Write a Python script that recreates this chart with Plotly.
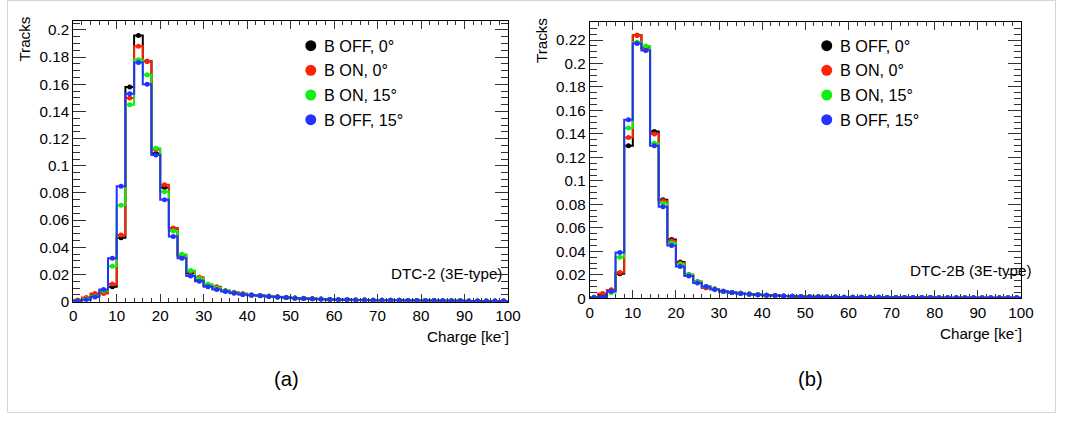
import plotly.graph_objects as go

W, H = 1069, 421

# ---------------- data ----------------
bin_edges = list(range(0, 102, 2))
bin_centers = [e + 1 for e in range(0, 100, 2)]

series_names = ["B OFF, 0°", "B ON, 0°", "B ON, 15°", "B OFF, 15°"]
series_colors = ["#000000", "#ff2200", "#11ee11", "#2233ff"]

tail_a = [0.0015, 0.0014, 0.0013, 0.0012, 0.0011, 0.0011, 0.0010, 0.0010, 0.0009, 0.0009,
          0.0008, 0.0008, 0.0007, 0.0007, 0.0007, 0.0006, 0.0006, 0.0006, 0.0005, 0.0005]

# Panel (a): DTC-2
a_boff0 = [0.001, 0.002, 0.005, 0.007, 0.011, 0.047, 0.158, 0.196, 0.177, 0.109,
           0.084, 0.054, 0.034, 0.021, 0.016, 0.012, 0.010, 0.008, 0.0065, 0.0055,
           0.005, 0.0045, 0.004, 0.0035, 0.003, 0.0027, 0.0024, 0.0021, 0.0019, 0.0017] + tail_a
a_bon0 = [0.001, 0.003, 0.006, 0.006, 0.013, 0.049, 0.150, 0.188, 0.177, 0.112,
          0.086, 0.054, 0.034, 0.022, 0.018, 0.012, 0.011, 0.008, 0.007, 0.006,
          0.005, 0.0046, 0.0041, 0.0036, 0.0031, 0.0028, 0.0025, 0.0022, 0.0019, 0.0017] + tail_a
a_bon15 = [0.0005, 0.002, 0.004, 0.008, 0.026, 0.071, 0.145, 0.178, 0.167, 0.113,
           0.081, 0.052, 0.035, 0.023, 0.017, 0.013, 0.010, 0.008, 0.0066, 0.0056,
           0.005, 0.0046, 0.004, 0.0035, 0.0031, 0.0027, 0.0024, 0.0021, 0.0019, 0.0017] + tail_a
a_boff15 = [0.0005, 0.0015, 0.0035, 0.009, 0.032, 0.085, 0.153, 0.176, 0.160, 0.108,
            0.075, 0.048, 0.032, 0.019, 0.015, 0.011, 0.009, 0.0075, 0.0062, 0.0053,
            0.0048, 0.0043, 0.0038, 0.0034, 0.003, 0.0026, 0.0023, 0.0021, 0.0018, 0.0016] + tail_a

tail_b = [0.0009, 0.0009, 0.0008, 0.0008, 0.0007, 0.0007, 0.0007, 0.0006, 0.0006, 0.0006,
          0.0005, 0.0005, 0.0005, 0.0005, 0.0004, 0.0004, 0.0004, 0.0004, 0.0004, 0.0004]

# Panel (b): DTC-2B
b_boff0 = [0.001, 0.003, 0.007, 0.021, 0.130, 0.224, 0.213, 0.142, 0.084, 0.050,
           0.031, 0.020, 0.014, 0.009, 0.008, 0.006, 0.005, 0.0042, 0.0036, 0.003,
           0.0026, 0.0023, 0.002, 0.0018, 0.0016, 0.0014, 0.0013, 0.0012, 0.0011, 0.0010] + tail_b
b_bon0 = [0.001, 0.004, 0.007, 0.022, 0.137, 0.224, 0.213, 0.140, 0.083, 0.049,
          0.030, 0.020, 0.014, 0.009, 0.008, 0.006, 0.005, 0.0042, 0.0036, 0.0031,
          0.0027, 0.0023, 0.002, 0.0018, 0.0016, 0.0015, 0.0013, 0.0012, 0.0011, 0.0010] + tail_b
b_bon15 = [0.0005, 0.0008, 0.005, 0.035, 0.145, 0.218, 0.215, 0.132, 0.081, 0.047,
           0.029, 0.020, 0.014, 0.010, 0.008, 0.006, 0.005, 0.0042, 0.0036, 0.003,
           0.0026, 0.0023, 0.002, 0.0018, 0.0016, 0.0014, 0.0013, 0.0012, 0.0011, 0.0010] + tail_b
b_boff15 = [0.0005, 0.0012, 0.006, 0.039, 0.152, 0.217, 0.211, 0.130, 0.078, 0.045,
            0.027, 0.019, 0.013, 0.010, 0.0075, 0.006, 0.005, 0.0041, 0.0035, 0.003,
            0.0026, 0.0023, 0.002, 0.0018, 0.0016, 0.0014, 0.0013, 0.0012, 0.0011, 0.0010] + tail_b

panels = [
    dict(series=[a_boff0, a_bon0, a_bon15, a_boff15], label="DTC-2 (3E-type)", tag="(a)",
         ymax=0.2068, yticks=[0, 0.02, 0.04, 0.06, 0.08, 0.1, 0.12, 0.14, 0.16, 0.18, 0.2]),
    dict(series=[b_boff0, b_bon0, b_bon15, b_boff15], label="DTC-2B (3E-type)", tag="(b)",
         ymax=0.2356, yticks=[0, 0.02, 0.04, 0.06, 0.08, 0.1, 0.12, 0.14, 0.16, 0.18, 0.2, 0.22]),
]
xticks = [0, 10, 20, 30, 40, 50, 60, 70, 80, 90, 100]

# ---------------- layout helpers (target pixel -> paper) ----------------
SX, OX, SY = 0.988, 2.0, 0.981   # compensation for the capture's slight scaling

def px(x):
    return min((x - OX) / SX, W - 0.5) / W

def py(y):
    return 1 - min(y / SY, H - 0.5) / H

def fs(v):
    return round(v / SX, 1)

# plot frames in target pixels: (left, right, top, bottom)
frames = [(71.5, 508.0, 20.7, 301.7), (590.0, 1023.0, 21.7, 298.3)]
legend_x = [310, 828]
legend_rows = [45.7, 70.3, 95.0, 119.7]
FONT = "Liberation Sans, Arial, Helvetica, sans-serif"

fig = go.Figure()
layout = dict(
    width=W, height=H, margin=dict(l=0, r=0, t=0, b=0), autosize=False,
    paper_bgcolor="white", plot_bgcolor="white", showlegend=False,
    font=dict(family=FONT, size=fs(14), color="black"),
    shapes=[], annotations=[],
)

for i, p in enumerate(panels):
    xa = "x" if i == 0 else "x2"
    ya = "y" if i == 0 else "y2"
    for vals, name, col in zip(p["series"], series_names, series_colors):
        sx = [0] + bin_edges
        sy = [0] + vals + [vals[-1]]
        fig.add_trace(go.Scatter(x=sx, y=sy, mode="lines", line=dict(color=col, width=2, shape="hv"),
                                 name=name, xaxis=xa, yaxis=ya, hoverinfo="skip"))
        fig.add_trace(go.Scatter(x=bin_centers, y=vals, mode="markers", name=name,
                                 marker=dict(color=col, size=5, symbol="circle"),
                                 xaxis=xa, yaxis=ya))
    l, r, t, b = frames[i]
    axx = dict(domain=[px(l), px(r)], range=[0, 100], anchor=ya,
               tickmode="array", tickvals=xticks, ticktext=[str(v) for v in xticks],
               ticks="inside", ticklen=8, tickcolor="#333", tickwidth=1,
               minor=dict(tick0=0, dtick=2, ticks="inside", ticklen=4, tickcolor="#333"),
               showline=True, linecolor="black", linewidth=1, mirror="allticks",
               showgrid=False, zeroline=False, tickfont=dict(size=fs(15), family=FONT, color="black"))
    axy = dict(domain=[py(b), py(t)], range=[0, p["ymax"]], anchor=xa,
               tickmode="array", tickvals=p["yticks"], ticktext=[("%g" % v) for v in p["yticks"]],
               ticks="inside", ticklen=13, tickcolor="#333", tickwidth=1,
               minor=dict(tick0=0, dtick=0.005, ticks="inside", ticklen=7, tickcolor="#333"),
               showline=True, linecolor="black", linewidth=1, mirror="allticks",
               showgrid=False, zeroline=False, tickfont=dict(size=fs(15), family=FONT, color="black"))
    if i == 0:
        layout["xaxis"], layout["yaxis"] = axx, axy
    else:
        layout["xaxis2"], layout["yaxis2"] = axx, axy

    # axis titles (ROOT style)
    layout["annotations"].append(dict(text="Tracks", x=px(l - 49), y=py(t - 6), xref="paper", yref="paper",
                                      textangle=-90, xanchor="center", yanchor="top", showarrow=False,
                                      font=dict(size=fs(15), family=FONT)))
    layout["annotations"].append(dict(text="Charge [ke<sup>-</sup>]", x=px(r + 3), y=py(b + 34),
                                      xref="paper", yref="paper", xanchor="right", yanchor="middle",
                                      showarrow=False, font=dict(size=fs(15), family=FONT)))
    layout["annotations"].append(dict(text=p["label"], x=px(r - 4 if i == 0 else r + 13), y=py(b - 28),
                                      xref="paper", yref="paper", xanchor="right", yanchor="middle",
                                      showarrow=False, font=dict(size=fs(15), family=FONT)))
    layout["annotations"].append(dict(text=p["tag"], x=px((l + r) / 2 - 4 if i == 0 else (l + r) / 2 + 5),
                                      y=py(379), xref="paper", yref="paper", xanchor="center",
                                      yanchor="middle", showarrow=False, font=dict(size=fs(20), family=FONT)))
    # legend
    for name, col, ry in zip(series_names, series_colors, legend_rows):
        cx = legend_x[i]
        rad = 5.5
        layout["shapes"].append(dict(type="circle", xref="paper", yref="paper",
                                     x0=px(cx - rad), x1=px(cx + rad), y0=py(ry + rad), y1=py(ry - rad),
                                     fillcolor=col, line=dict(width=0)))
        layout["annotations"].append(dict(text=name, x=px(cx + 11), y=py(ry), xref="paper", yref="paper",
                                          xanchor="left", yanchor="middle", showarrow=False,
                                          font=dict(size=fs(16), family=FONT)))

# outer light frame
layout["shapes"].append(dict(type="rect", xref="paper", yref="paper", x0=px(5.5), x1=px(1066),
                             y0=py(416.5), y1=py(0.5), line=dict(color="#d4d4d4", width=1)))

fig.update_layout(**layout)

post = (
    "var s=document.createElement('style');"
    "s.textContent='html,body{margin:0;padding:0;overflow:hidden;}';"
    "document.head.appendChild(s);"
)
fig.write_html("out.html", config={"responsive": False, "displayModeBar": False}, post_script=post)
